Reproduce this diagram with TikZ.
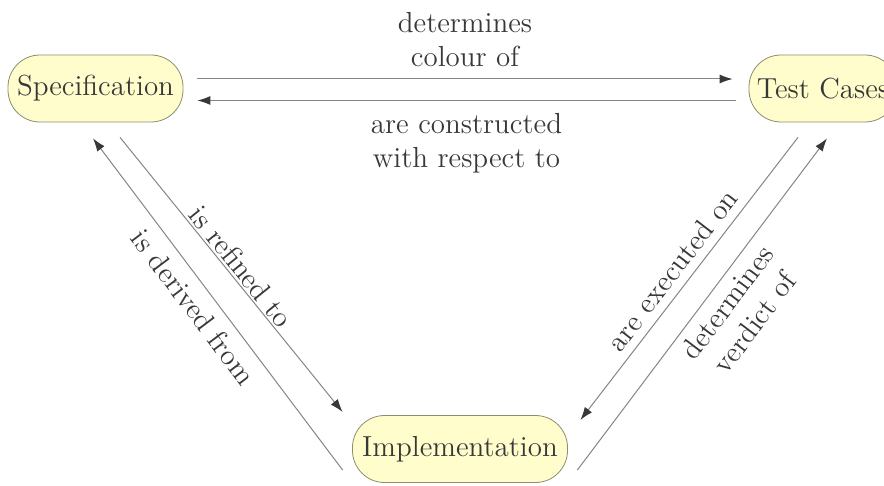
\documentclass[tikz,border=0pt]{standalone}
\usepackage{tikz}
\usetikzlibrary{arrows.meta}
\definecolor{boxFill}{HTML}{FFFDCC}
\definecolor{boxLine}{HTML}{8C8C6E}
\definecolor{lineGray}{HTML}{858585}
\definecolor{textGray}{HTML}{383838}
\tikzstyle{boxNode} = [draw=boxLine, fill=boxFill, rounded corners=16pt,
   minimum height=33.5pt, inner sep=0pt, text=textGray,
   font=\fontsize{14.5}{17}\selectfont]
\tikzstyle{relArrow} = [draw=lineGray, line width=0.5pt,
   -{Latex[length=6.5pt,width=4.5pt,color=textGray]}]
\tikzstyle{relLabel} = [text=textGray, align=center, inner sep=1pt,
   font=\fontsize{14.5}{17}\selectfont]

\begin{document}
\begin{tikzpicture}[x=0.5pt,y=-0.5pt]
  \useasboundingbox (0,0) rectangle (884,486);
  \node[boxNode, minimum width=87.5pt] (spec) at (95.5,88.5) {Specification};
  \node[boxNode, minimum width=74pt] (tc) at (823,88.5) {Test Cases};
  \node[boxNode, minimum width=107.5pt] (impl) at (460,449) {Implementation};
  % spec <-> test cases
  \draw [relArrow] ([shift={(14,-9.5)}]spec.east) -- ([shift={(-16,-9.5)}]tc.west)
    node[relLabel, midway, above=5pt] {determines\\colour of};
  \draw [relArrow] ([shift={(-13,12)}]tc.west) -- ([shift={(14,12)}]spec.east)
    node[relLabel, midway, below=5pt] {are constructed\\with respect to};
  % spec <-> impl
  \draw [relArrow] ([shift={(24.5,15)}]spec.south) -- ([shift={(-9.5,-37)}]impl.west)
    node[relLabel, pos=0.5, sloped, above=0pt] {is refined to};
  \draw [relArrow] ([shift={(-9.5,21)}]impl.west) -- ([shift={(-2.5,16)}]spec.south)
    node[relLabel, pos=0.53, sloped, below=4pt] {is derived from};
  % test cases <-> impl
  \draw [relArrow] ([shift={(-25,15)}]tc.south) -- ([shift={(12.5,-29)}]impl.east)
    node[relLabel, pos=0.51, sloped, above=3pt] {are executed on};
  \draw [relArrow] ([shift={(9.5,21)}]impl.east) -- ([shift={(4,16)}]tc.south)
    node[relLabel, pos=0.54, sloped, below=3pt] {determines\\verdict of};
\end{tikzpicture}
\end{document}
